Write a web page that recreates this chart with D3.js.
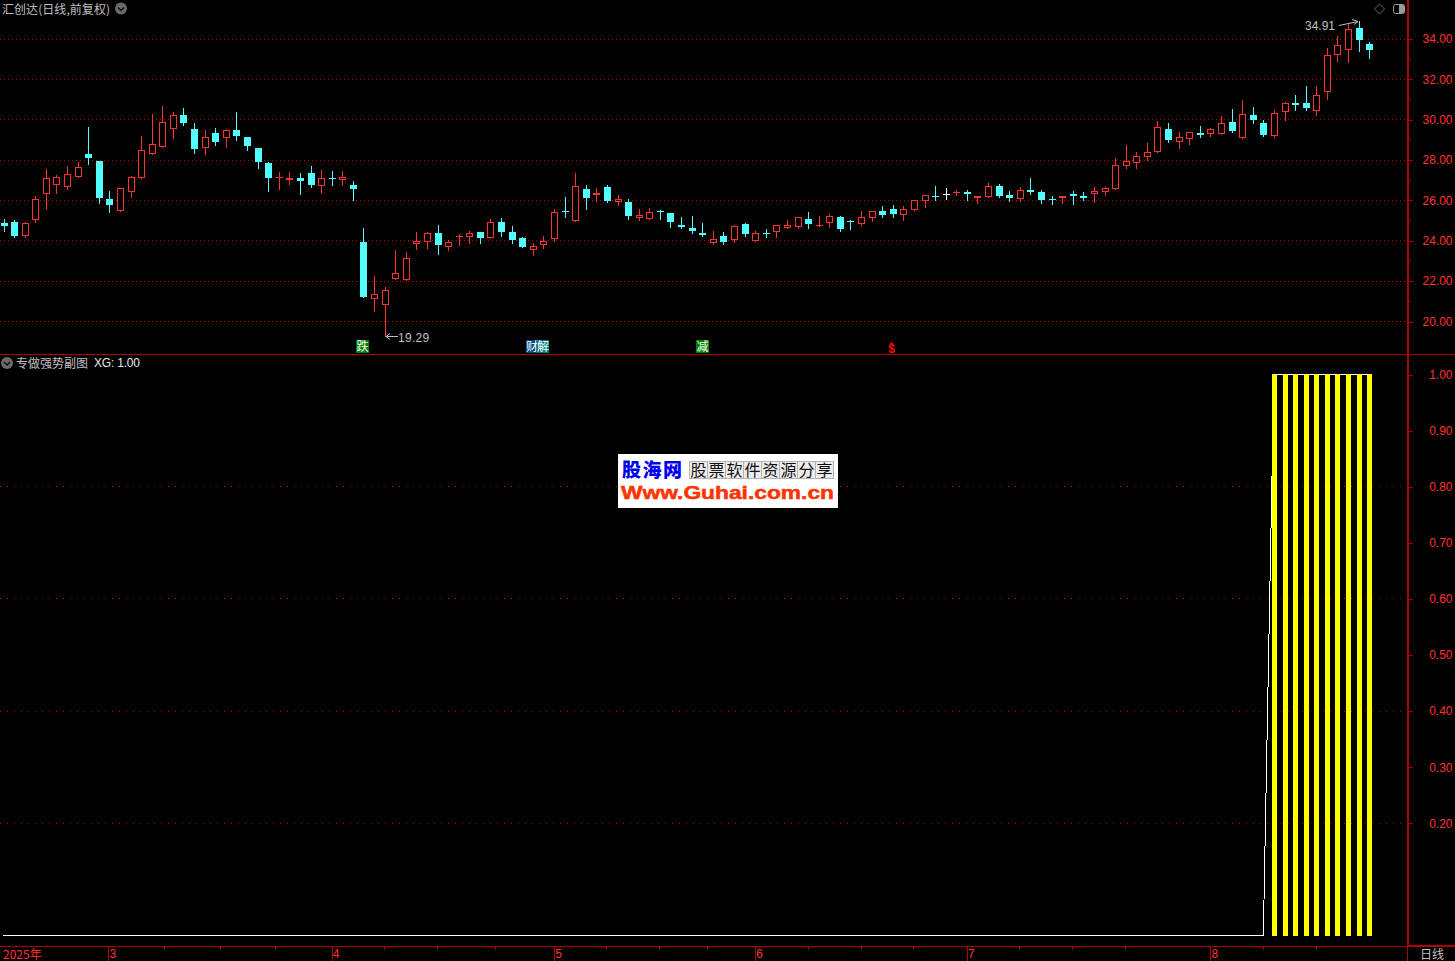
<!DOCTYPE html>
<html lang="zh-CN">
<head>
    <meta charset="UTF-8">
    <title>汇创达 日线</title>
    <script src="https://d3js.org/d3.v7.min.js"></script>
    <style>
        html, body {
            margin: 0;
            background: #000;
            overflow: hidden;
        }
        svg {
            display: block;
            font-family: "Liberation Sans", "Noto Sans CJK SC", sans-serif;
        }
        .cjk {
            font-family: "Noto Sans CJK SC", sans-serif;
        }
    </style>
</head>
<body>
    <div id="chart"></div>
    <script>
        // daily prices
        const opens = [24.88,24.93,24.24,25.03,26.32,26.76,26.66,27.16,28.30,27.95,26.07,25.47,26.42,27.11,28.30,28.65,29.54,30.23,29.54,28.60,29.34,29.09,29.49,29.14,28.60,27.85,27.11,27.01,27.11,27.36,26.71,27.11,27.01,26.76,
            23.94,21.11,20.82,22.10,22.06,23.84,23.94,24.38,23.69,24.19,24.19,24.43,24.14,24.93,24.43,24.14,23.54,23.79,24.09,25.47,24.98,26.56,26.27,26.66,25.92,25.92,25.13,25.08,25.47,25.38,24.78,24.63,24.38,
            23.89,24.24,24.04,24.83,23.99,24.38,24.43,24.63,24.68,25.08,24.73,24.88,25.18,24.98,24.83,25.13,25.47,25.57,25.28,25.52,25.97,26.22,26.34,26.37,26.42,26.12,26.17,26.71,26.27,26.07,26.51,26.42,26.07,
            26.12,26.32,26.22,26.32,26.42,26.56,27.70,27.85,28.15,28.40,29.54,28.89,29.04,29.34,29.29,29.29,29.88,29.09,30.23,29.83,29.19,30.38,30.83,30.83,30.43,31.37,33.21,33.45,34.54,33.75];
        const highs = [25.08,25.03,24.93,26.22,27.56,27.26,27.70,27.90,29.64,27.95,26.47,26.61,27.21,29.19,30.28,30.68,30.38,30.58,29.83,29.49,29.59,29.54,30.38,29.14,28.60,27.90,27.41,27.41,27.36,27.70,27.51,27.46,27.46,26.96,
            24.63,22.25,21.71,23.54,23.44,24.43,24.43,24.78,24.04,24.34,24.48,24.43,25.08,25.13,24.73,24.19,23.89,24.24,25.57,26.17,27.36,26.76,26.61,26.76,26.27,26.07,25.57,25.62,25.52,25.38,25.18,25.23,24.88,
            24.48,24.43,24.78,24.88,24.48,24.58,24.78,25.03,25.18,25.42,25.23,25.33,25.23,25.03,25.47,25.47,25.72,25.77,25.72,26.02,26.27,26.71,26.61,26.51,26.51,26.22,26.86,26.81,26.47,26.66,27.11,26.51,26.22,
            26.22,26.47,26.42,26.66,26.66,28.10,28.74,28.40,28.84,29.93,29.83,29.39,29.39,29.69,29.59,30.18,30.53,30.98,30.63,29.98,30.48,30.88,31.22,31.67,31.67,33.55,34.15,34.79,34.91,33.85];
        const lows = [24.48,24.19,24.19,24.93,25.57,26.37,26.56,27.16,27.80,25.87,25.42,25.47,26.17,27.11,28.30,28.65,29.09,29.74,28.35,28.30,28.74,28.65,28.99,28.50,27.60,26.47,26.56,26.81,26.32,26.66,26.37,26.76,26.76,26.02,
            21.21,20.52,19.29,22.10,22.06,23.59,23.64,23.34,23.54,23.79,23.89,23.89,24.14,24.24,23.89,23.69,23.29,23.64,23.99,25.18,24.98,25.57,25.97,25.92,25.77,25.08,25.03,25.08,25.08,24.68,24.63,24.38,24.24,
            23.84,23.84,23.94,24.24,23.99,24.19,24.19,24.63,24.63,24.63,24.73,24.68,24.48,24.58,24.78,24.98,25.18,25.18,25.03,25.52,25.67,26.02,26.07,26.27,26.02,25.87,26.17,26.17,25.97,25.97,26.32,25.87,25.82,
            25.87,25.82,26.02,25.92,26.27,26.56,27.60,27.60,28.00,28.40,28.89,28.60,28.79,29.14,29.19,29.29,29.39,29.09,29.83,29.19,29.14,29.98,30.48,30.48,30.23,31.03,32.91,32.86,33.40,33.06];
        const closes = [24.73,24.24,24.88,26.07,27.11,27.16,27.31,27.65,28.10,26.12,25.77,26.61,27.16,28.50,28.79,29.88,30.23,29.83,28.55,29.14,28.89,29.49,29.19,28.70,27.90,27.11,27.16,27.11,26.96,26.76,27.11,27.06,27.16,26.56,
            21.21,21.36,21.56,22.40,23.15,23.99,24.38,23.79,23.94,24.24,24.38,24.14,24.93,24.43,24.04,23.69,23.74,23.99,25.42,25.42,26.71,26.12,26.37,25.97,26.07,25.23,25.28,25.42,25.42,24.93,24.68,24.48,24.29,
            24.09,23.94,24.73,24.34,24.38,24.34,24.78,24.78,25.18,24.83,24.78,25.23,24.58,24.93,25.18,25.47,25.28,25.33,25.57,26.02,26.27,26.17,26.34,26.42,26.32,26.22,26.71,26.22,26.12,26.51,26.42,26.02,26.02,
            26.22,26.22,26.12,26.47,26.61,27.75,27.95,28.20,28.40,29.64,28.99,29.14,29.39,29.24,29.54,29.83,29.44,30.28,29.98,29.24,30.33,30.83,30.73,30.58,31.22,33.21,33.70,34.49,33.95,33.45];

        // XG indicator, one value per day
        const xg = [0,0,0,0,0,0,0,0,0,0,0,0,0,0,0,0,0,0,0,0,0,0,0,0,0,0,0,0,0,0,0,0,0,0,
            0,0,0,0,0,0,0,0,0,0,0,0,0,0,0,0,0,0,0,0,0,0,0,0,0,0,0,0,0,0,0,0,0,
            0,0,0,0,0,0,0,0,0,0,0,0,0,0,0,0,0,0,0,0,0,0,0,0,0,0,0,0,0,0,0,0,0,
            0,0,0,0,0,0,0,0,0,0,0,0,0,0,0,0,0,0,0,0,1,1,1,1,1,1,1,1,1,1];

        const priceLabels = [34, 32, 30, 28, 26, 24, 22, 20];
        const priceMinor = [33, 31, 29, 27, 25, 23, 21];
        const xgLabels = [1, 0.9, 0.8, 0.7, 0.6, 0.5, 0.4, 0.3, 0.2];
        const xgGrid = [0.8, 0.6, 0.4, 0.2];
        const monthIdx = [9.9, 31, 52, 71, 91, 114];
        const monthNames = ["3", "4", "5", "6", "7", "8"];
        const weekIdx = [15.2, 20.5, 25.7, 36, 41, 46.5, 57, 62, 66.5, 76, 81, 86, 96, 101, 106, 119, 124];

        const width = 1455, height = 961;
        const axisX = 1408;
        const red = "#ff3232", cyan = "#54ffff", line = "#b00000", grid = "#c80000", gray = "#c0c0c0";

        const svg = d3.select("#chart").append("svg")
            .attr("width", width)
            .attr("height", height);

        svg.append("rect").attr("width", width).attr("height", height).attr("fill", "#000");

        const x = d3.scaleLinear().domain([0, 129]).range([3.5, 1369.2]);
        const y = d3.scaleLinear().domain([20, 34]).range([321.5, 39]);
        const y2 = d3.scaleLinear().domain([0, 1]).range([935.5, 374.5]);

        const px = v => Math.floor(v) + 0.5;
        const cx = i => Math.round(x(i));

        // dotted gridlines, a repeating 1px dot so every row comes out the same
        const defs = svg.append("defs");
        function dotPattern(id, step) {
            const p = defs.append("pattern")
                .attr("id", id)
                .attr("patternUnits", "userSpaceOnUse")
                .attr("width", step)
                .attr("height", 1);
            p.append("rect").attr("width", 1).attr("height", 1).attr("fill", grid);
        }
        dotPattern("dots4", 4);
        dotPattern("dots7", 7);

        function gridRows(scale, values, pattern) {
            svg.append("g").selectAll("rect")
                .data(values)
                .enter().append("rect")
                .attr("x", 0)
                .attr("width", axisX - 1)
                .attr("y", d => Math.floor(scale(d)))
                .attr("height", 1)
                .attr("fill", `url(#${pattern})`)
                .attr("transform", d => `translate(0,0)`);
        }
        // pattern tiles start at y=0, so shift each row onto a whole pixel of the tile
        gridRows(y, priceLabels, "dots4");
        gridRows(y2, xgGrid, "dots7");

        // candles
        const candles = svg.append("g").attr("shape-rendering", "crispEdges");
        const colorOf = i => closes[i] > opens[i] ? red : closes[i] < opens[i] ? cyan : "#fff";

        opens.forEach((o, i) => {
            const c = closes[i];
            const yTop = Math.round(y(Math.max(o, c)));
            const yBot = Math.round(y(Math.min(o, c)));
            const col = colorOf(i);
            const mid = cx(i) + 0.5;

            candles.append("line")
                .attr("x1", mid).attr("x2", mid)
                .attr("y1", Math.round(y(highs[i]))).attr("y2", yTop)
                .attr("stroke", col);
            candles.append("line")
                .attr("x1", mid).attr("x2", mid)
                .attr("y1", yBot).attr("y2", Math.round(y(lows[i])) + 1)
                .attr("stroke", col);

            if (yBot - yTop < 2) {
                // flat day, just a dash across the wick
                candles.append("rect")
                    .attr("x", cx(i) - 3).attr("y", yTop)
                    .attr("width", 7).attr("height", 1)
                    .attr("fill", col);
            } else if (col === red) {
                candles.append("rect")
                    .attr("x", mid - 3).attr("y", yTop + 0.5)
                    .attr("width", 6).attr("height", yBot - yTop - 1)
                    .attr("fill", "#000").attr("stroke", col);
            } else {
                candles.append("rect")
                    .attr("x", cx(i) - 3).attr("y", yTop)
                    .attr("width", 7).attr("height", yBot - yTop)
                    .attr("fill", col);
            }
        });

        // high and low markers
        const iLow = lows.indexOf(d3.min(lows));
        const iHigh = highs.indexOf(d3.max(highs));
        const mark = svg.append("g").attr("fill", gray).attr("font-size", 12);

        const lowY = Math.round(y(lows[iLow]));
        mark.append("path")
            .attr("d", `M${cx(iLow) + 1},${lowY + 0.5}h12M${cx(iLow) + 1},${lowY + 0.5}l4,-3M${cx(iLow) + 1},${lowY + 0.5}l4,3`)
            .attr("stroke", gray).attr("fill", "none");
        mark.append("text")
            .attr("x", cx(iLow) + 13)
            .attr("y", lowY + 6)
            .attr("letter-spacing", 0.3)
            .text(lows[iLow].toFixed(2));

        const highY = Math.round(y(highs[iHigh]));
        mark.append("path")
            .attr("d", `M${cx(iHigh) - 20},${highY + 4.5}L${cx(iHigh) - 1},${highY + 0.5}M${cx(iHigh) - 1},${highY + 0.5}l-6,-2M${cx(iHigh) - 1},${highY + 0.5}l-4,3`)
            .attr("stroke", gray).attr("fill", "none");
        mark.append("text")
            .attr("x", cx(iHigh) - 24)
            .attr("y", highY + 9)
            .attr("text-anchor", "end")
            .text(highs[iHigh].toFixed(2));

        // event tags above the panel line
        const tags = [
            { label: "跌", x: 356, w: 13, bg: "#008000" },
            { label: "财", x: 526, w: 12, bg: "#004a80" },
            { label: "解", x: 537, w: 12, bg: "#008080" },
            { label: "减", x: 696, w: 13, bg: "#008000" }
        ];
        const tagG = svg.append("g").attr("class", "cjk");
        tags.forEach(t => {
            tagG.append("rect")
                .attr("x", t.x).attr("y", 340)
                .attr("width", t.w).attr("height", 13)
                .attr("fill", t.bg);
            tagG.append("text")
                .attr("x", t.x + t.w / 2).attr("y", 351)
                .attr("text-anchor", "middle")
                .attr("font-size", 12)
                .attr("fill", "#fff")
                .text(t.label);
        });
        svg.append("text")
            .attr("x", 891.5).attr("y", 353)
            .attr("text-anchor", "middle")
            .attr("font-size", 12)
            .attr("font-weight", "bold")
            .attr("fill", "#ff0000")
            .text("$");
        svg.append("path")
            .attr("d", "M891.5,342l-2,2h4z")
            .attr("fill", "#ff0000");

        // lower panel, white XG line goes under the yellow bars
        svg.append("path")
            .datum(xg)
            .attr("d", d3.line().x((d, i) => i === 0 ? 3 : x(i)).y(d => y2(d)))
            .attr("fill", "none")
            .attr("stroke", "#fff")
            .attr("shape-rendering", "crispEdges");

        svg.append("g").selectAll("rect")
            .data(xg.map((d, i) => ({ v: d, i: i })).filter(d => d.v > 0))
            .enter().append("rect")
            .attr("x", d => cx(d.i) - 2)
            .attr("y", d => Math.floor(y2(d.v)))
            .attr("width", 5)
            .attr("height", d => y2(0) - y2(d.v) + 1)
            .attr("fill", "#ffff00")
            .attr("shape-rendering", "crispEdges");

        // frame
        const frame = svg.append("g").attr("stroke", line).attr("shape-rendering", "crispEdges");
        frame.append("line").attr("x1", 0).attr("x2", width).attr("y1", 354.5).attr("y2", 354.5);
        frame.append("line").attr("x1", 1407.5).attr("x2", 1407.5).attr("y1", 0).attr("y2", height);
        frame.append("line").attr("x1", 1408.5).attr("x2", 1408.5).attr("y1", 0).attr("y2", 946);
        frame.append("line").attr("x1", 0).attr("x2", width).attr("y1", 946.5).attr("y2", 946.5);
        frame.append("line").attr("x1", 1408).attr("x2", width).attr("y1", 945.5).attr("y2", 945.5);

        // right axes
        function rightAxis(scale, values, fmt) {
            const g = svg.append("g")
                .attr("transform", `translate(${axisX},0)`)
                .call(d3.axisRight(scale).tickValues(values).tickFormat(fmt).tickSize(5).tickPadding(0));
            g.select(".domain").remove();
            g.selectAll(".tick line").attr("stroke", line).attr("shape-rendering", "crispEdges");
            g.selectAll(".tick text")
                .attr("x", 44.5)
                .attr("text-anchor", "end")
                .attr("fill", red)
                .attr("font-size", 12)
                .attr("font-family", "'Liberation Sans', sans-serif");
            return g;
        }
        rightAxis(y, priceLabels, d => d.toFixed(2));
        rightAxis(y2, xgLabels, d => d.toFixed(2));

        svg.append("g").selectAll("line")
            .data(priceMinor)
            .enter().append("line")
            .attr("x1", axisX).attr("x2", axisX + 3)
            .attr("y1", d => px(y(d))).attr("y2", d => px(y(d)))
            .attr("stroke", line)
            .attr("shape-rendering", "crispEdges");

        // bottom axis
        const bottom = svg.append("g")
            .attr("transform", "translate(0,947)")
            .call(d3.axisBottom(x).tickValues(monthIdx)
                .tickFormat((d, i) => monthNames[i]).tickSize(14).tickPadding(0));
        bottom.select(".domain").remove();
        bottom.selectAll(".tick line").attr("stroke", line).attr("shape-rendering", "crispEdges");
        bottom.selectAll(".tick text")
            .attr("x", 4)
            .attr("y", 2)
            .attr("fill", red)
            .attr("font-size", 12)
            .attr("font-family", "'Liberation Sans', sans-serif");

        svg.append("g").selectAll("line")
            .data(weekIdx)
            .enter().append("line")
            .attr("x1", d => px(x(d))).attr("x2", d => px(x(d)))
            .attr("y1", 947).attr("y2", 950)
            .attr("stroke", line)
            .attr("shape-rendering", "crispEdges");

        svg.append("text")
            .attr("class", "cjk")
            .attr("x", 3).attr("y", 959)
            .attr("font-size", 12)
            .attr("fill", red)
            .text("2025年");
        svg.append("text")
            .attr("class", "cjk")
            .attr("x", 1420).attr("y", 959)
            .attr("font-size", 12)
            .attr("fill", gray)
            .text("日线");

        // titles and small icons
        svg.append("text")
            .attr("class", "cjk")
            .attr("x", 2).attr("y", 14)
            .attr("font-size", 12)
            .attr("fill", gray)
            .attr("textLength", 108)
            .text("汇创达(日线,前复权)");

        function chevron(cxv, cyv) {
            svg.append("circle").attr("cx", cxv).attr("cy", cyv).attr("r", 6).attr("fill", "#6a6a6a");
            svg.append("path")
                .attr("d", `M${cxv - 3},${cyv - 1}l3,3l3,-3`)
                .attr("fill", "none").attr("stroke", "#111").attr("stroke-width", 1.5);
        }
        chevron(121, 8.5);
        chevron(7, 363);

        svg.append("text")
            .attr("class", "cjk")
            .attr("x", 16).attr("y", 367.5)
            .attr("font-size", 12)
            .attr("fill", gray)
            .text("专做强势副图");
        svg.append("text")
            .attr("x", 94).attr("y", 367)
            .attr("font-size", 12)
            .attr("fill", "#e8e8e8")
            .attr("textLength", 46)
            .text("XG: 1.00");

        svg.append("path")
            .attr("d", "M1379.5,4l5,5l-5,5l-5,-5z")
            .attr("fill", "none").attr("stroke", "#666");
        svg.append("rect")
            .attr("x", 1393.5).attr("y", 4.5).attr("width", 11).attr("height", 9).attr("rx", 2)
            .attr("fill", "none").attr("stroke", "#999");
        svg.append("rect")
            .attr("x", 1399).attr("y", 5).attr("width", 5).attr("height", 8)
            .attr("fill", "#999");

        // watermark box in the middle
        const wm = svg.append("g").attr("class", "cjk");
        wm.append("rect").attr("x", 618).attr("y", 454).attr("width", 220).attr("height", 54).attr("fill", "#fff");
        wm.append("text")
            .attr("x", 622).attr("y", 477)
            .attr("font-size", 19)
            .attr("font-weight", 900)
            .attr("fill", "#0000f0")
            .attr("textLength", 60)
            .text("股海网");
        "股票软件资源分享".split("").forEach((ch, i) => {
            wm.append("rect")
                .attr("x", 689.5 + i * 18).attr("y", 461.5)
                .attr("width", 18).attr("height", 17)
                .attr("fill", "#ececec").attr("stroke", "#b4b4b4");
            wm.append("text")
                .attr("x", 698.5 + i * 18).attr("y", 476)
                .attr("text-anchor", "middle")
                .attr("font-size", 16)
                .attr("fill", "#111")
                .text(ch);
        });
        wm.append("text")
            .attr("x", 621).attr("y", 499)
            .attr("font-family", "'Liberation Sans', sans-serif")
            .attr("font-size", 18)
            .attr("font-weight", "bold")
            .attr("fill", "#ff3300")
            .attr("stroke", "#ff3300")
            .attr("stroke-width", 0.5)
            .attr("textLength", 213)
            .attr("lengthAdjust", "spacingAndGlyphs")
            .text("Www.Guhai.com.cn");
    </script>
</body>
</html>
